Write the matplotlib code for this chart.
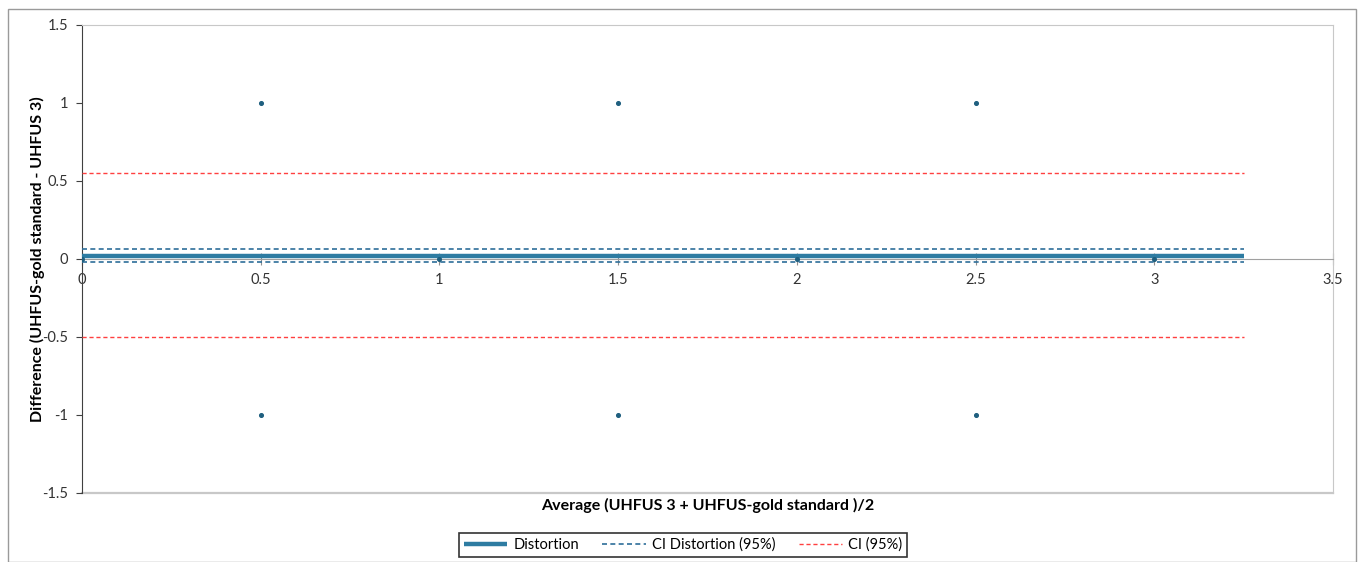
import matplotlib
matplotlib.use("Agg")
import matplotlib.pyplot as plt
from matplotlib.patches import Rectangle

plt.rcParams['font.family'] = ['Lato', 'DejaVu Sans']

# Data
avg_x = [0, 0.5, 0.5, 1, 1.5, 1.5, 2, 2.5, 2.5, 3]
diff_y = [0, 1, -1, 0, 1, -1, 0, 1, -1, 0]
line_x = [0, 3.25]
distortion = [0.02, 0.02]
ci_dist_upper = [0.065, 0.065]
ci_dist_lower = [-0.02, -0.02]
ci_upper = [0.55, 0.55]
ci_lower = [-0.50, -0.50]
xticks = [0, 0.5, 1, 1.5, 2, 2.5, 3, 3.5]
xtick_labels = ["0", "0.5", "1", "1.5", "2", "2.5", "3", "3.5"]
yticks = [-1.5, -1, -0.5, 0, 0.5, 1, 1.5]
ytick_labels = ["-1.5", "-1", "-0.5", "0", "0.5", "1", "1.5"]

W, H = 1359, 562
fig = plt.figure(figsize=(W / 100, H / 100), dpi=100)
ax = fig.add_axes([82 / W, 1 - 493 / H, (1333 - 82) / W, (493 - 25) / H])

ax.plot(line_x, distortion, color="#2e7ca2", lw=3.2, solid_capstyle="butt", label="Distortion", zorder=3)
ax.plot(line_x, ci_dist_upper, color="#2e6e99", lw=1.2, ls=(0, (3, 2)), label="CI Distortion (95%)", zorder=3)
ax.plot(line_x, ci_dist_lower, color="#2e6e99", lw=1.2, ls=(0, (3, 2)), zorder=3)
ax.plot(line_x, ci_upper, color="#ff4040", lw=1.0, ls=(0, (3, 2)), label="CI (95%)", zorder=3)
ax.plot(line_x, ci_lower, color="#ff4040", lw=1.0, ls=(0, (3, 2)), zorder=3)
ax.scatter(avg_x, diff_y, s=7, color="#1f5f7f", zorder=4)

ax.set_xlim(0, 3.5)
ax.set_ylim(-1.5, 1.5)

# plot-area bottom border (the x axis itself sits at y=0)
ax.axhline(-1.5, color="#c8c8c8", lw=1.6, clip_on=False, zorder=1)

ax.spines['bottom'].set_position(('data', 0))
ax.spines['bottom'].set_color("#a0a0a0")
ax.spines['left'].set_color("#404040")
ax.spines['top'].set_color("#c8c8c8")
ax.spines['right'].set_color("#c8c8c8")
ax.set_xticks(xticks)
ax.set_xticklabels(xtick_labels, fontsize=10.5, color="#333333")
ax.set_yticks(yticks)
ax.set_yticklabels(ytick_labels, fontsize=10.5, color="#333333")
ax.tick_params(axis='x', direction='inout', length=8, color="#909090", pad=6)
ax.tick_params(axis='y', direction='out', length=4, color="#404040", pad=6)

fig.text(37 / W, 1 - 259 / H, "Difference (UHFUS-gold standard - UHFUS 3)", rotation=90,
         ha="center", va="center", fontsize=11.5, fontweight="bold")
fig.text((82 + 1333) / 2 / W, 1 - 505 / H, "Average (UHFUS 3 + UHFUS-gold standard )/2",
         ha="center", va="center", fontsize=11.5, fontweight="bold")

leg = fig.legend(loc="center", bbox_to_anchor=(683 / W, 1 - 545 / H), ncol=3, frameon=True,
                 fontsize=10.5, handlelength=3.0, handletextpad=0.4, columnspacing=1.6,
                 borderpad=0.35, borderaxespad=0, fancybox=False, edgecolor="black")
leg.get_frame().set_linewidth(1.2)

fig.patches.append(Rectangle((8 / W, 0), (1356 - 8) / W, 1 - 9 / H, transform=fig.transFigure,
                             fill=False, edgecolor="#9a9a9a", lw=1))

fig.savefig("out.png", dpi=100)
